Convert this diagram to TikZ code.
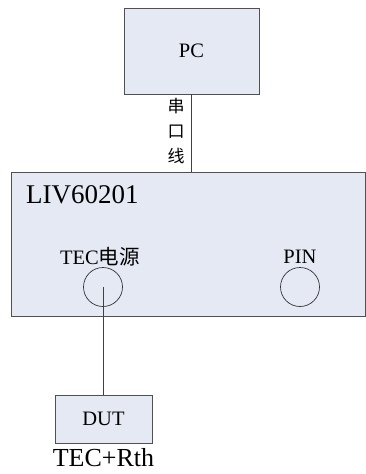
\documentclass[tikz,border=0pt]{standalone}
\usepackage{fontspec}
\setmainfont{Liberation Serif}
\newfontfamily\cjk{Noto Sans CJK SC}
\usepackage{tikz}
\usetikzlibrary{positioning}
\usepackage{xcolor}
\definecolor{boxfill}{HTML}{E4E9F4}
\definecolor{boxline}{HTML}{505050}

\begin{document}
\begin{tikzpicture}[
  x=1pt, y=-1pt,
  unit/.style={rectangle, draw=boxline, fill=boxfill, line width=0.9pt, inner sep=0pt},
  port/.style={circle, draw=black!80, line width=0.7pt, minimum size=39pt, inner sep=0pt},
  lbl/.style={inner sep=0pt, font=\fontsize{20.5}{20.5}\selectfont},
  wire/.style={draw=black!75, line width=0.7pt}
]

\useasboundingbox (0,0) rectangle (366,474);

% boxes
\node[unit, minimum width=135pt, minimum height=86pt, lbl] (pc) at (191.5,51) {PC};
\node[unit, minimum width=354pt, minimum height=144pt] (liv) at (188,244) {};
\node[unit, minimum width=97pt, minimum height=48pt, lbl] (dut) at (103.5,419) {DUT};

% text inside the instrument
\node[lbl, anchor=west, font=\fontsize{27}{27}\selectfont] (livname) at (26,195) {LIV60201};
\node[lbl] (teclabel) at (100,257) {TEC{\cjk 电源}};
\node[lbl] (pinlabel) at (300,257) {PIN};

% ports
\node[port] (tecport) at (103,287) {};
\node[port] (pinport) at (300,287) {};

% cables
\draw[wire] (pc.south) -- (pc.south |- liv.north);
\node[lbl, align=center, font=\cjk\fontsize{17}{25}\selectfont] (serial) at (176,131) {串\\口\\线};
\draw[wire] (tecport.center) -- (tecport.center |- dut.north);

\node[lbl, below=5pt of dut, font=\fontsize{26}{26}\selectfont] (dutname) {TEC+Rth};

\end{tikzpicture}
\end{document}
